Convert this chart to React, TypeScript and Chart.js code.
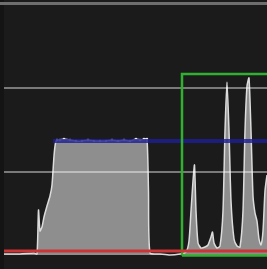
import React, { useEffect, useRef } from "react";
import { Chart, registerables } from "chart.js";

Chart.register(...registerables);

// Signal trace (x: sample position, y: level)
const traceX = [4, 20, 34, 37, 38.5, 40, 42, 44, 47, 50, 52, 54, 55.5, 57, 60, 64, 70, 76, 82, 88, 94, 100, 106, 112, 118, 124, 130, 136, 140, 144, 147, 148.5, 150, 160, 170, 180, 186, 189, 191, 193, 194.5, 196, 198, 201, 205, 208, 211, 212.5, 214, 217, 220, 223, 225, 227, 229, 231, 234, 237, 240, 243, 245, 247, 249, 251, 253, 255, 257, 259, 261, 263, 265, 267];
const traceY = [-3, -3, -2, -3, 41, 20, 24, 34, 45, 55, 66, 95, 108, 111, 111, 112, 111, 110, 110, 111, 110, 110, 110, 111, 110, 111, 110, 112, 111, 112, 112, 60, -2, -3, -4, -3, -1, 10, 40, 70, 86, 40, 8, 3, 4, 6, 14, 19, 8, 3, 5, 40, 120, 169, 120, 50, 12, 5, 4, 40, 120, 165, 173, 120, 55, 38, 30, 12, 6, 20, 60, 76];

// Reference levels
const upperLevel = 163;
const lowerLevel = 79;
const targetLevel = 110;
const baseLevel = 0;
const frameLevel = 247.5;

// Highlight window
const windowLeft = 182;
const windowTop = 177;
const windowBottom = -4.5;

export default function App() {
  const ref = useRef<HTMLCanvasElement>(null);
  useEffect(() => {
    const ctx = ref.current!;
    const trace = traceX.map((x, i) => ({ x, y: traceY[i] }));
    const plateau = traceY.map((y, i) => (traceX[i] >= 57 && traceX[i] <= 147 ? 1.2 : 0));
    const bg = {
      id: "bg",
      beforeDraw(c: any) {
        const g = c.ctx;
        g.save();
        g.fillStyle = "#1b1b1b";
        g.fillRect(0, 0, c.width, c.height);
        g.fillStyle = "#141414";
        g.fillRect(0, 0, 4, c.height);
        g.restore();
      },
    };
    const line = (pts: any[], color: string, width: number, order: number) => ({
      data: pts,
      borderColor: color,
      borderWidth: width,
      pointRadius: 0,
      fill: false,
      order,
      tension: 0,
    });
    const chart = new Chart(ctx, {
      type: "line",
      data: {
        datasets: [
          {
            data: trace,
            borderColor: "#dcdcdc",
            borderWidth: 1.5,
            backgroundColor: "#8e8e8e",
            fill: { value: -4 },
            pointRadius: plateau,
            pointBackgroundColor: "#eeeeff",
            pointBorderWidth: 0,
            tension: 0.2,
            order: 10,
          } as any,
          line([{ x: 0, y: frameLevel }, { x: 267, y: frameLevel }], "#6e6e6e", 3, 5),
          line([{ x: 4, y: upperLevel }, { x: 267, y: upperLevel }], "rgba(255,255,255,0.42)", 2, 4),
          line([{ x: 4, y: lowerLevel }, { x: 267, y: lowerLevel }], "rgba(255,255,255,0.42)", 2, 4),
          line([{ x: 53, y: targetLevel }, { x: 267, y: targetLevel }], "rgba(30,30,150,0.8)", 4, 3),
          line([{ x: windowLeft, y: windowBottom }, { x: windowLeft, y: windowTop }, { x: 270, y: windowTop }], "#30b030", 2.5, 2),
          line([{ x: windowLeft, y: windowBottom }, { x: 270, y: windowBottom }], "#30b030", 2.5, 2),
          line([{ x: 4, y: baseLevel }, { x: 267, y: baseLevel }], "#cc3535", 3, 1),
        ],
      },
      options: {
        animation: false,
        responsive: false,
        devicePixelRatio: 1,
        layout: { padding: 0 },
        plugins: { legend: { display: false }, tooltip: { enabled: false } },
        scales: {
          x: { type: "linear", min: 0, max: 267, display: false },
          y: { type: "linear", min: -18, max: 251, display: false },
        },
      },
      plugins: [bg],
    });
    return () => chart.destroy();
  }, []);
  return (
    <div style={{ position: "fixed", left: 0, top: 0, width: 267, height: 269, overflow: "hidden", background: "#1b1b1b" }}>
      <canvas ref={ref} width={267} height={269} style={{ filter: "blur(0.6px)" }} />
    </div>
  );
}
